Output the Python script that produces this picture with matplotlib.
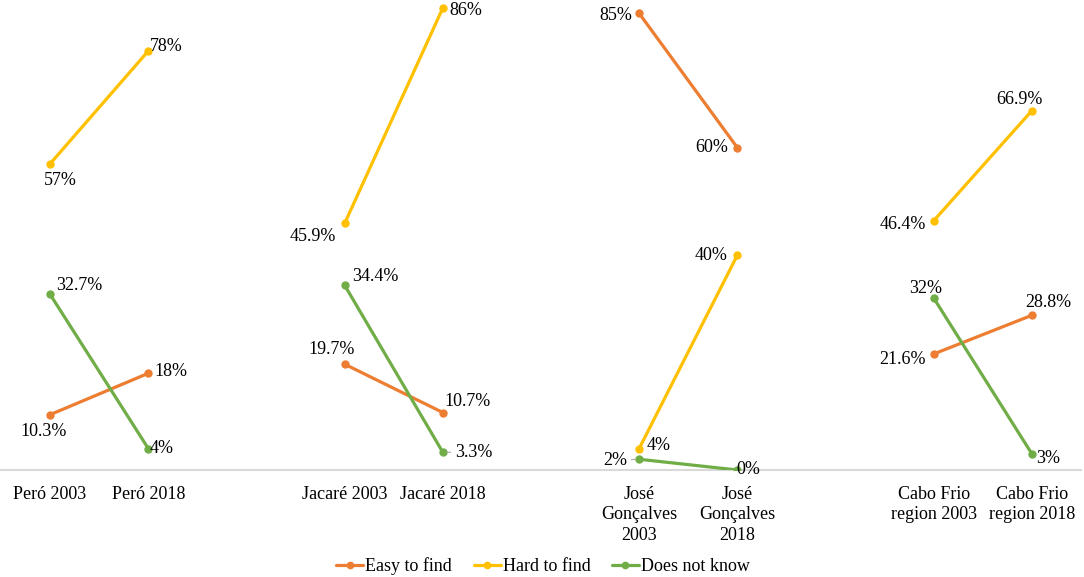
import matplotlib
matplotlib.use("Agg")
import matplotlib.pyplot as plt
import numpy as np

categories = ["Peró 2003", "Peró 2018", "",
              "Jacaré 2003", "Jacaré 2018", "",
              "José\nGonçalves\n2003", "José\nGonçalves\n2018", "",
              "Cabo Frio\nregion 2003", "Cabo Frio\nregion 2018"]
nan = np.nan
easy = [10.3, 18, nan, 19.7, 10.7, nan, 85, 60, nan, 21.6, 28.8]
hard = [57, 78, nan, 45.9, 86, nan, 4, 40, nan, 46.4, 66.9]
dnk = [32.7, 4, nan, 34.4, 3.3, nan, 2, 0, nan, 32, 3]
series_names = ["Easy to find", "Hard to find", "Does not know"]
colors = ["#ED7D31", "#FFC000", "#70AD47"]

# label offsets in pixels (dx, dy, ha) per series per category
off_easy = {0: (-6, -17, "center"), 1: (6, 2, "left"), 3: (-13, 15, "center"),
            4: (2, 11, "left"), 6: (-7, -2, "right"), 7: (-9, 0, "right"),
            9: (-8, -6, "right"), 10: (16, 13, "center")}
off_hard = {0: (10, -17, "center"), 1: (2, 4, "left"), 3: (-9, -13, "right"),
            4: (7, -2, "left"), 6: (7, 3, "left"), 7: (-10, 0, "right"),
            9: (-8, -4, "right"), 10: (-12, 11, "center")}
off_dnk = {0: (6, 9, "left"), 1: (1, 0, "left"), 3: (7, 9, "left"),
           4: (12, 0, "left"), 6: (-12, -1, "right"), 7: (-1, 0, "left"),
           9: (-8, 10, "center"), 10: (4, -5, "left")}
leaders = {("dnk", 4), ("dnk", 6)}

plt.rcParams['font.family'] = ['Liberation Serif', 'DejaVu Serif']
fig = plt.figure(figsize=(10.84, 5.77), dpi=100)
ax = fig.add_axes([1/1084, 107/577, 1080/1084, 470/577])

x = np.arange(len(categories))
for key, vals, name, col, offs in zip(["easy", "hard", "dnk"], [easy, hard, dnk],
                                      series_names, colors,
                                      [off_easy, off_hard, off_dnk]):
    v = np.array(vals, dtype=float)
    ax.plot(x, v, color=col, lw=2.3, marker="o", ms=5, label=name,
            solid_capstyle="round", zorder=3)
    for i, (dx, dy, ha) in offs.items():
        val = v[i]
        txt = f"{val:g}%"
        arrow = None
        if (key, i) in leaders:
            arrow = dict(arrowstyle="-", color="#A6A6A6", lw=0.8,
                         shrinkA=1, shrinkB=3)
        ax.annotate(txt, (x[i], val), xytext=(dx, dy), textcoords="offset pixels",
                    ha=ha, va="center", fontsize=13, color="#000000", zorder=4,
                    arrowprops=arrow)

ax.set_xlim(-0.5, len(categories) - 0.5)
ax.set_ylim(0, 470/5.372)
ax.set_xticks(x)
ax.set_xticklabels(categories, fontsize=13, linespacing=1.27)
ax.tick_params(axis="x", length=0, pad=11.5)
ax.set_yticks([])
for s in ["top", "right", "left"]:
    ax.spines[s].set_visible(False)
ax.spines["bottom"].set_color("#D9D9D9")
ax.spines["bottom"].set_linewidth(1.5)
ax.set_facecolor("none")

fig.legend(loc="center", bbox_to_anchor=(543/1084, 1 - 566/577), ncol=3,
           frameon=False, fontsize=13, handlelength=1.5, handletextpad=0.1,
           columnspacing=1.2, markerscale=0.9)

fig.savefig("out.png", dpi=100)
